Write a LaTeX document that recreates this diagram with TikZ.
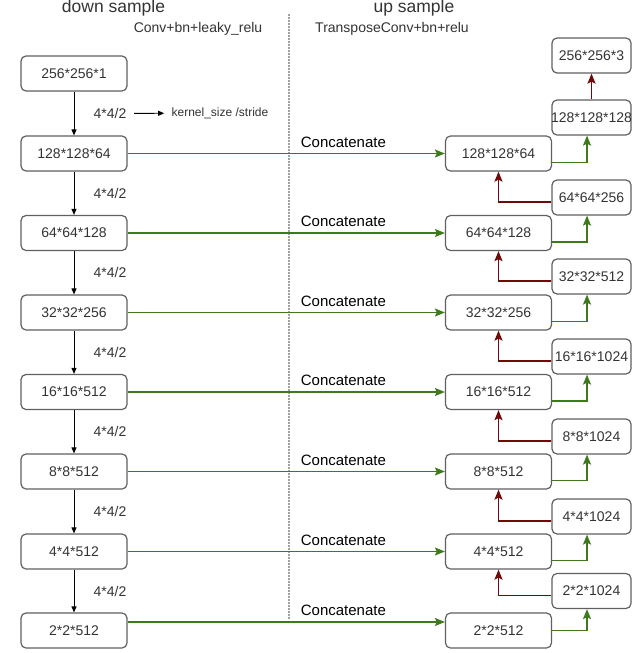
\documentclass[tikz,border=0pt]{standalone}
\usepackage{fontspec}
\setmainfont{Liberation Sans}
\usetikzlibrary{arrows.meta}
\definecolor{catgreen}{RGB}{62,122,28}
\definecolor{upred}{RGB}{112,10,10}
\definecolor{boxgray}{RGB}{96,96,96}
\definecolor{txtgray}{RGB}{51,51,51}
\begin{document}
\begin{tikzpicture}[x=1pt, y=-1pt,
every node/.style={font=\fontsize{14}{16}\selectfont, text=txtgray},
blk/.style={draw=boxgray, line width=1.2pt, rounded corners=5pt, minimum width=106pt, minimum height=35pt, inner sep=0pt},
sml/.style={blk, minimum width=79pt},
down/.style={-{Triangle[length=6pt,width=5pt]}, line width=0.9pt, black},
cat/.style={-{Stealth[length=10pt,width=8pt,inset=2pt]}, line width=1.7pt, catgreen},
upr/.style={-{Stealth[length=10pt,width=8pt,inset=2pt]}, line width=1.7pt, upred},
klbl/.style={midway, xshift=36pt},
clbl/.style={pos=.68, above=2pt, font=\fontsize{15}{17}\selectfont, text=black},
]
\useasboundingbox (0,0) rectangle (640,653);
% titles
\node[font=\fontsize{17.5}{20}\selectfont] (tdown) at (113.5,8) {down sample};
\node (tconv) at (198,29) {Conv+bn+leaky\_relu};
\node[font=\fontsize{17.5}{20}\selectfont] (tup) at (414,8) {up sample};
\node (ttrans) at (392,29) {TransposeConv+bn+relu};
\draw[black!75, line width=1.6pt, line cap=round, dash pattern=on 0pt off 3pt] (289,15) -- (289,618);
% down sample
\node[blk] (d0) at (74,73.5) {256*256*1};
\node[blk] (d1) at (74,153.5) {128*128*64};
\node[blk] (d2) at (74,233) {64*64*128};
\node[blk] (d3) at (74,312.5) {32*32*256};
\node[blk] (d4) at (74,392) {16*16*512};
\node[blk] (d5) at (74,471.5) {8*8*512};
\node[blk] (d6) at (74,551.5) {4*4*512};
\node[blk] (d7) at (74,630.5) {2*2*512};
% up sample
\node[blk] (u1) at (498.5,153.5) {128*128*64};
\node[blk] (u2) at (498.5,233) {64*64*128};
\node[blk] (u3) at (498.5,312.5) {32*32*256};
\node[blk] (u4) at (498.5,392) {16*16*512};
\node[blk] (u5) at (498.5,471.5) {8*8*512};
\node[blk] (u6) at (498.5,551.5) {4*4*512};
\node[blk] (u7) at (498.5,630.5) {2*2*512};
\node[sml] (out) at (591.5,55.5) {256*256*3};
\node[sml] (r1) at (591.5,117.5) {\makebox[0pt]{128*128*128}};
\node[sml] (r2) at (591.5,197.5) {64*64*256};
\node[sml] (r3) at (591.5,276.5) {32*32*512};
\node[sml] (r4) at (591.5,356.5) {16*16*1024};
\node[sml] (r5) at (591.5,436.5) {8*8*1024};
\node[sml] (r6) at (591.5,516.5) {4*4*1024};
\node[sml] (r7) at (591.5,591) {2*2*1024};
% strided convs
\draw[down] (d0) -- node[klbl] (k0) {4*4/2} (d1);
\node[font=\fontsize{12}{14}\selectfont] (ks) at (220,113) {kernel\_size /stride};
\draw[down, shorten <=4pt, shorten >=4pt] (k0) -- (ks);
\draw[down] (d1) -- node[klbl] {4*4/2} (d2);
\draw[down] (d2) -- node[klbl] {4*4/2} (d3);
\draw[down] (d3) -- node[klbl] {4*4/2} (d4);
\draw[down] (d4) -- node[klbl] {4*4/2} (d5);
\draw[down] (d5) -- node[klbl] {4*4/2} (d6);
\draw[down] (d6) -- node[klbl] {4*4/2} (d7);
% skip connections
\draw[cat] (d1) -- node[clbl] {Concatenate} (u1);
\draw[cat] (d2) -- node[clbl] {Concatenate} (u2);
\draw[cat] (d3) -- node[clbl] {Concatenate} (u3);
\draw[cat] (d4) -- node[clbl] {Concatenate} (u4);
\draw[cat] (d5) -- node[clbl] {Concatenate} (u5);
\draw[cat] (d6) -- node[clbl] {Concatenate} (u6);
\draw[cat] ([yshift=8.5pt]d7.east) -- node[clbl] {Concatenate} ([yshift=8.5pt]u7.west);
% concat result up to next block
\draw[cat] ([yshift=-9pt]u1.east) -| ([xshift=-4.5pt]r1.south);
\draw[cat] ([yshift=-9pt]u2.east) -| ([xshift=-4.5pt]r2.south);
\draw[cat] ([yshift=-9pt]u3.east) -| ([xshift=-4.5pt]r3.south);
\draw[cat] ([yshift=-9pt]u4.east) -| ([xshift=-4.5pt]r4.south);
\draw[cat] ([yshift=-9pt]u5.east) -| ([xshift=-4.5pt]r5.south);
\draw[cat] ([yshift=-9pt]u6.east) -| ([xshift=-4.5pt]r6.south);
\draw[cat] (u7.east) -| ([xshift=-4.5pt]r7.south);
% transpose convs
\draw[upr] (r1) -- (out);
\draw[upr] ([yshift=-4.5pt]r2.west) -| (u1.south);
\draw[upr] ([yshift=-4.5pt]r3.west) -| (u2.south);
\draw[upr] ([yshift=-4.5pt]r4.west) -| (u3.south);
\draw[upr] ([yshift=-4.5pt]r5.west) -| (u4.south);
\draw[upr] ([yshift=-4.5pt]r6.west) -| (u5.south);
\draw[upr] ([yshift=-4.5pt]r7.west) -| (u6.south);
\end{tikzpicture}
\end{document}
